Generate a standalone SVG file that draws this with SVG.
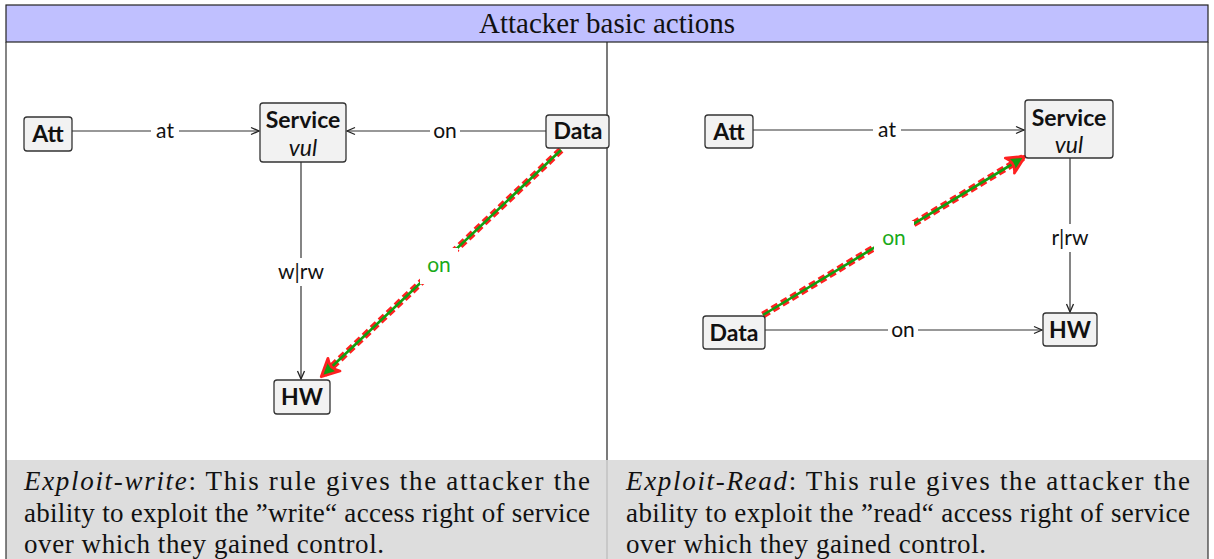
<svg xmlns="http://www.w3.org/2000/svg" width="1214" height="559" viewBox="0 0 1214 559">
<defs>
<style>
.node rect{fill:#f2f2f2;stroke:#333;stroke-width:1.3}
.nt{font-family:Lato,"DejaVu Sans",sans-serif;font-size:23px;font-weight:bold;fill:#111;text-anchor:middle}
.ni{font-family:Lato,"DejaVu Sans",sans-serif;font-size:23px;font-style:italic;fill:#111;text-anchor:middle}
.edge{stroke:#333;stroke-width:1.2;fill:none}
.el{font-family:Lato,"DejaVu Sans",sans-serif;font-size:21px;fill:#111;text-anchor:middle}
.gl{font-family:Lato,"DejaVu Sans",sans-serif;font-size:21px;fill:#1aaa1a;text-anchor:middle}
.red{stroke:#ff2020;stroke-width:7;stroke-dasharray:7 4;fill:none}
.grn{stroke:#10a010;stroke-width:2.6;fill:none}
.cap{font-family:"Liberation Serif","DejaVu Serif",serif;font-size:27px;fill:#111}
.hdr{font-family:"Liberation Serif","DejaVu Serif",serif;font-size:29px;fill:#111;text-anchor:middle}
</style>
<marker id="ah" viewBox="0 0 10 10" refX="9" refY="5" markerWidth="10" markerHeight="10" markerUnits="userSpaceOnUse" orient="auto">
<path d="M1,1.5 L9,5 L1,8.5" fill="none" stroke="#222" stroke-width="1.3"/>
</marker>
<marker id="gh" viewBox="0 0 20 20" refX="17" refY="10" markerWidth="22" markerHeight="22" markerUnits="userSpaceOnUse" orient="auto">
<path d="M2,2 Q8,10 2,18 L18,10 Z" fill="#10a010" stroke="#ff2020" stroke-width="2.5" stroke-linejoin="round"/>
</marker>
</defs>
<rect x="0" y="0" width="1214" height="559" fill="#fff"/>
<g id="frame">
<rect x="6" y="5" width="1202" height="37" fill="#c0c0ff" stroke="#222" stroke-width="1.2"/>
<text class="hdr" x="607" y="33">Attacker basic actions</text>
<rect x="6" y="460" width="1202" height="104" fill="#dddddd"/>
<line x1="6" y1="42" x2="6" y2="559" stroke="#333" stroke-width="1.2"/>
<line x1="1208" y1="42" x2="1208" y2="559" stroke="#333" stroke-width="1.2"/>
<line x1="607" y1="42" x2="607" y2="460" stroke="#222" stroke-width="1.2"/>
<line x1="607" y1="460" x2="607" y2="559" stroke="#bbbbbb" stroke-width="1.2"/>
</g>
<g id="connectors-left">
<line class="edge" x1="72" y1="131" x2="259" y2="131" marker-end="url(#ah)"/>
<rect x="151" y="119" width="28" height="24" fill="#fff"/>
<text class="el" x="165" y="138">at</text>
<line class="edge" x1="546" y1="131" x2="347" y2="131" marker-end="url(#ah)"/>
<rect x="430" y="119" width="30" height="24" fill="#fff"/>
<text class="el" x="445" y="138">on</text>
<line class="edge" x1="301" y1="162" x2="301" y2="379" marker-end="url(#ah)"/>
<rect x="274" y="258" width="54" height="28" fill="#fff"/>
<text class="el" x="301" y="279">w|rw</text>
<line class="red" x1="561" y1="150" x2="322" y2="376"/>
<line class="grn" x1="561" y1="150" x2="322" y2="376" marker-end="url(#gh)"/>
<rect x="420" y="248" width="38" height="36" fill="#fff"/>
<text class="gl" x="439" y="272">on</text>
</g>
<g id="connectors-right">
<line class="edge" x1="753" y1="130" x2="1024" y2="130" marker-end="url(#ah)"/>
<rect x="873" y="118" width="28" height="24" fill="#fff"/>
<text class="el" x="887" y="137">at</text>
<line class="edge" x1="1070" y1="158" x2="1070" y2="312" marker-end="url(#ah)"/>
<rect x="1048" y="224" width="44" height="28" fill="#fff"/>
<text class="el" x="1070" y="245">r|rw</text>
<line class="edge" x1="765" y1="330" x2="1042" y2="330" marker-end="url(#ah)"/>
<rect x="888" y="318" width="30" height="24" fill="#fff"/>
<text class="el" x="903" y="337">on</text>
<line class="red" x1="763" y1="315" x2="1024" y2="157"/>
<line class="grn" x1="763" y1="315" x2="1024" y2="157" marker-end="url(#gh)"/>
<rect x="874" y="221" width="40" height="34" fill="#fff"/>
<text class="gl" x="894" y="245">on</text>
</g>
<g id="L-Att" class="node"><rect x="24" y="117" width="48" height="34" rx="3"/><text class="nt" x="48" y="142">Att</text></g>
<g id="L-Service" class="node"><rect x="260" y="103" width="86" height="59" rx="3"/><text class="nt" x="303" y="128">Service</text><text class="ni" x="303" y="156">vul</text></g>
<g id="L-Data" class="node"><rect x="546" y="115" width="63" height="33" rx="3"/><text class="nt" x="578" y="139">Data</text></g>
<g id="L-HW" class="node"><rect x="274" y="380" width="56" height="34" rx="3"/><text class="nt" x="302" y="405">HW</text></g>
<g id="R-Att" class="node"><rect x="705" y="115" width="48" height="33" rx="3"/><text class="nt" x="729" y="140">Att</text></g>
<g id="R-Service" class="node"><rect x="1025" y="100" width="88" height="58" rx="3"/><text class="nt" x="1069" y="126">Service</text><text class="ni" x="1069" y="153">vul</text></g>
<g id="R-Data" class="node"><rect x="703" y="316" width="62" height="33" rx="3"/><text class="nt" x="734" y="341">Data</text></g>
<g id="R-HW" class="node"><rect x="1043" y="313" width="54" height="33" rx="3"/><text class="nt" x="1070" y="338">HW</text></g>
<g id="captions">
<text class="cap" x="24" y="490" textLength="566" lengthAdjust="spacing"><tspan font-style="italic">Exploit-write</tspan>:  This rule gives the attacker the</text>
<text class="cap" x="24" y="522" textLength="566" lengthAdjust="spacing">ability to exploit the ”write“ access right of service</text>
<text class="cap" x="24" y="553" textLength="360" lengthAdjust="spacing">over which they gained control.</text>
<text class="cap" x="626" y="490" textLength="564" lengthAdjust="spacing"><tspan font-style="italic">Exploit-Read</tspan>:  This rule gives the attacker the</text>
<text class="cap" x="626" y="522" textLength="564" lengthAdjust="spacing">ability to exploit the ”read“ access right of service</text>
<text class="cap" x="626" y="553" textLength="360" lengthAdjust="spacing">over which they gained control.</text>
</g>
</svg>
